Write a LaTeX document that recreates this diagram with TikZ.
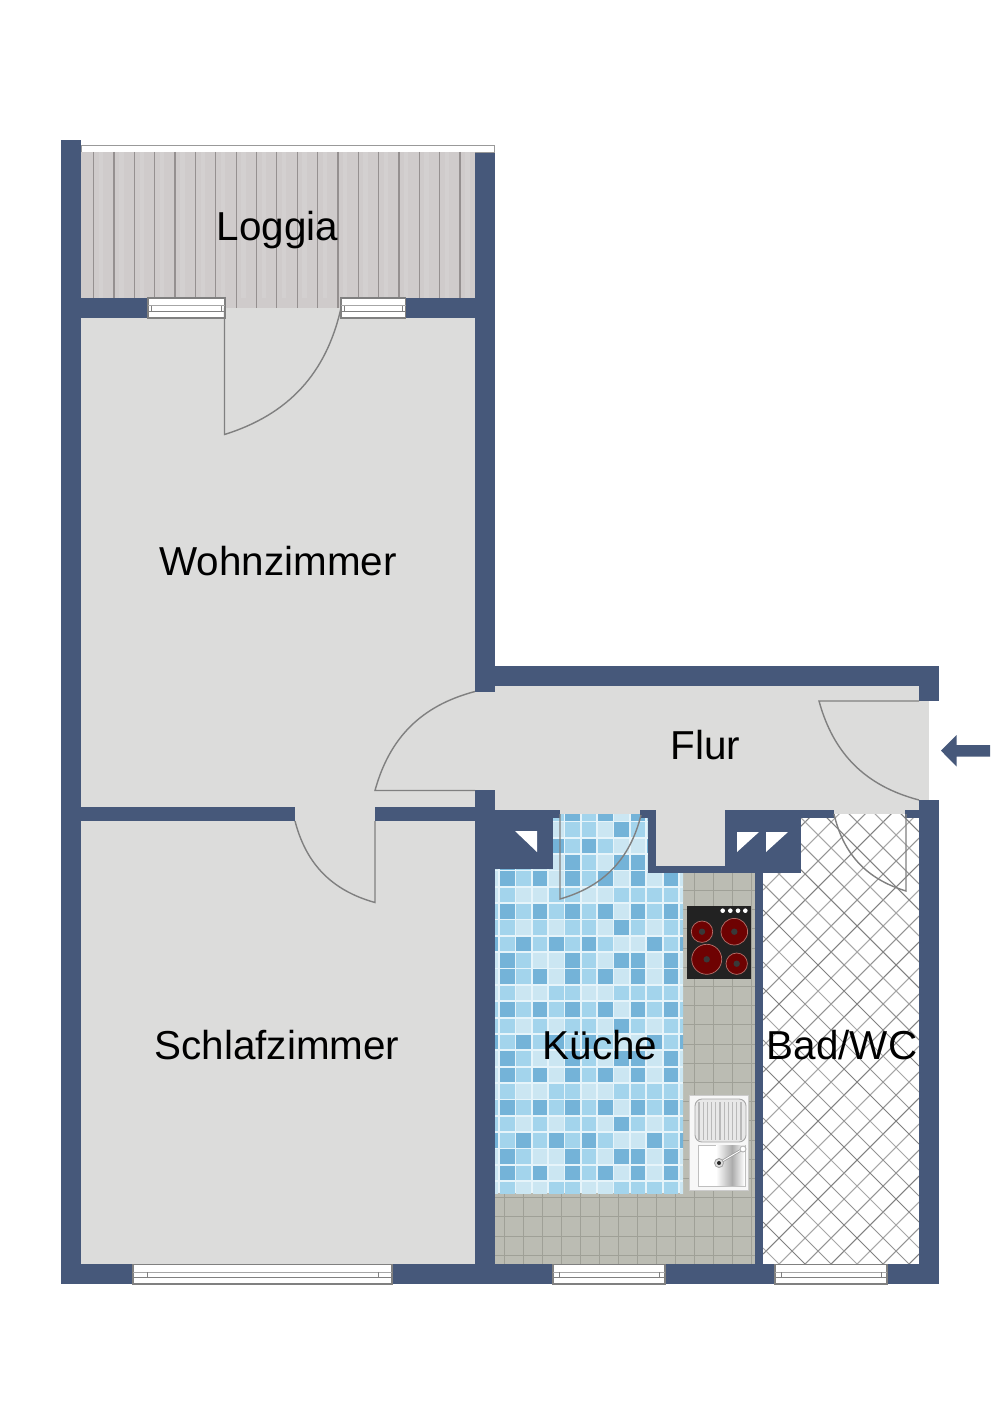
\documentclass[tikz,border=0pt]{standalone}
\usepackage{fontspec}
\setmainfont{Liberation Sans}

\definecolor{wallblue}{HTML}{46587A}
\definecolor{floorgray}{HTML}{DCDCDB}
\definecolor{plank}{HTML}{CFCBCB}
\definecolor{plankline}{HTML}{959090}
\definecolor{stone}{HTML}{BBBCB3}
\definecolor{stoneline}{HTML}{9FA097}
\definecolor{grout}{HTML}{E6F4FA}
\definecolor{mosaic0}{HTML}{CBE6F2}
\definecolor{mosaic1}{HTML}{A3D4EC}
\definecolor{mosaic2}{HTML}{74B3D8}
\definecolor{hobblack}{HTML}{222222}
\definecolor{hobred}{HTML}{6E0202}
\definecolor{hobring}{HTML}{B5706A}

\tikzset{
  roomlabel/.style={font=\fontsize{23}{27}\selectfont,text=black,inner sep=0pt},
  doorline/.style={draw=gray,line width=0.8pt},
  tileline/.style={draw=stoneline,line width=0.35pt},
  hatchline/.style={line width=0.6pt},
}

% x1, x2, y1, y2, inset of the ticks
\newcommand{\wallwindow}[5]{
  \draw[gray,line width=0.7pt,fill=white] (#1,#3) rectangle (#2,#4);
  \draw[gray!70,line width=0.7pt] (#1,{#3+0.39*(#4-#3)}) -- (#2,{#3+0.39*(#4-#3)});
  \draw[gray,line width=0.6pt] (#1,{#3+0.66*(#4-#3)}) -- (#2,{#3+0.66*(#4-#3)});
  \draw[gray,line width=0.4pt] ({#1+#5},{#3+0.39*(#4-#3)}) -- ({#1+#5},{#3+0.66*(#4-#3)});
  \draw[gray,line width=0.4pt] ({#2-#5},{#3+0.39*(#4-#3)}) -- ({#2-#5},{#3+0.66*(#4-#3)});
}

\begin{document}
\begin{tikzpicture}[x=0.02cm,y=-0.02cm]

\useasboundingbox (0,0) rectangle (1000,1415);
\fill[white] (0,0) rectangle (1000,1415);

% loggia
\draw[gray!80,line width=0.5pt,fill=white] (81,145.5) rectangle (494,152);
\fill[plank] (81,152) rectangle (475,298);
\fill[plank] (225,298) rectangle (341,308);
\foreach \i in {0,...,18} {
  \draw[white,opacity=0.1,line width=2.5pt] ({101+20.35*\i},152) -- ({101+20.35*\i},298);
  \draw[plankline,line width=0.7pt] ({93.7+20.35*\i},152) -- ({93.7+20.35*\i},298);
}
\foreach \i in {7,...,12} {
  \draw[plankline,line width=0.7pt] ({93.7+20.35*\i},298) -- ({93.7+20.35*\i},308);
}

% kitchen stone floor
\fill[stone] (495,1193) rectangle (755,1264);
\fill[stone] (683,866) rectangle (755,1193);
\begin{scope}
  \clip (495,1193) rectangle (755,1264) (683,866) rectangle (755,1193);
  \foreach \i in {0,...,13} {
    \draw[tileline] ({504+19*\i},866) -- ({504+19*\i},1264);
  }
  \foreach \i in {0,...,20} {
    \draw[tileline] (495,{1255-19.2*\i}) -- (755,{1255-19.2*\i});
  }
\end{scope}

% kitchen mosaic
\def\mosaicrows{{{1,1,0,1,0,1,1,0,2,1,0,1,1},
                 {2,1,2,1,2,1,2,1,0,0,2,1,2},
                 {0,2,1,0,0,2,1,0,2,2,0,2,0},
                 {0,2,1,2,0,2,1,2,0,2,0,2,0},
                 {0,1,0,0,1,1,0,0,1,1,1,1,0},
                 {1,2,1,2,1,2,1,2,0,2,1,2,1}}}
\begin{scope}
  \clip (495,814) rectangle (683,1193);
  \fill[grout] (495,814) rectangle (683,1193);
  \foreach \j in {-1,...,22} {
    \pgfmathtruncatemacro{\rowno}{mod(\j+6,6)}
    \foreach \i in {-1,...,11} {
      \pgfmathtruncatemacro{\tone}{\mosaicrows[\rowno][\i+1]}
      \fill[mosaic\tone] ({500+16.35*\i},{822.3+16.35*\j}) rectangle +(14.6,14.6);
    }
  }
\end{scope}

% bathroom tiles
\fill[white] (763,814) rectangle (919,1264);
\begin{scope}
  \clip (763,814) rectangle (919,1264);
  \foreach \i in {-8,...,21} {
    \pgfmathtruncatemacro{\tone}{70+15*mod(\i+9,3)}
    \draw[hatchline,draw=gray!\tone] (763,{890+26*\i}) -- (919,{734+26*\i});
  }
  \foreach \i in {-20,...,18} {
    \pgfmathtruncatemacro{\tone}{70+15*mod(\i+21,3)}
    \draw[hatchline,draw=gray!\tone] (763,{858+26*\i}) -- (919,{1014+26*\i});
  }
\end{scope}

% floors
\fill[floorgray] (81,318) rectangle (475,808);
\fill[floorgray] (225,308) rectangle (341,318);
\fill[floorgray] (81,807) rectangle (475,1264);
\fill[floorgray] (475,686) rectangle (919,814);
\fill[floorgray] (919,701) rectangle (929,800);
\fill[floorgray] (656,810) rectangle (725,866);

% walls
\fill[wallblue] (61,140) rectangle (81,1284);
\fill[wallblue] (475,153) rectangle (494.5,692);
\fill[wallblue] (494,666) rectangle (939,686);
\fill[wallblue] (919,666) rectangle (939,701);
\fill[wallblue] (919,800) rectangle (939,1284);
\fill[wallblue] (61,1264) rectangle (939,1284);
\fill[wallblue] (475,790) rectangle (495,1264);
\fill[wallblue] (81,298) rectangle (225,318);
\fill[wallblue] (341,298) rectangle (475,318);
\fill[wallblue] (81,807) rectangle (295,821);
\fill[wallblue] (375,807) rectangle (475,821);
\fill[wallblue] (495,810) rectangle (560,818);
\fill[wallblue] (495,810) rectangle (553,869);
\fill[wallblue] (640,810) rectangle (656,818);
\fill[wallblue] (648,810) rectangle (656,873);
\fill[wallblue] (648,866) rectangle (801,873);
\fill[wallblue] (725,810) rectangle (801,873);
\fill[wallblue] (725,810) rectangle (834,818);
\fill[wallblue] (905,810) rectangle (919,818);
\fill[wallblue] (755,873) rectangle (763,1264);

% shafts
\fill[white] (515,831) -- (537,831) -- (537,852) -- cycle;
\fill[white] (737,832) -- (759,832) -- (737,852) -- cycle;
\fill[white] (766,832) -- (788,832) -- (766,852) -- cycle;

% windows
\wallwindow{148}{225}{298}{318}{3.7}
\wallwindow{341}{405.7}{298}{318}{3.7}
\wallwindow{133}{392}{1264.5}{1284}{14}
\wallwindow{553}{665}{1264.5}{1284}{6}
\wallwindow{775}{887}{1264.5}{1284}{6}

% doors
\draw[doorline] (224.5,308) -- (224.5,434.5) to[bend right=30] (341,308);
\draw[doorline] (375,821) -- (375,902.5) to[bend left=30] (295,821);
\draw[doorline] (475,790.5) -- (375,790.5) to[bend left=30] (475,691.5);
\draw[doorline] (560,814) -- (560,899) to[bend right=30] (641,815);
\draw[doorline] (919,701) -- (819,701) to[bend right=30] (919,800);
\draw[doorline] (906,814) -- (906,891) to[bend left=30] (834,814);

% hob
\fill[hobblack] (686.7,906) rectangle (751,979);
\foreach \x in {722.7,730.3,738,745.3} {
  \fill[white] (\x,910.7) circle[radius=2.3];
}
\foreach \x/\y/\r in {702/931.7/10.7,734.3/931.7/13.3,706.7/959.3/15,736.7/963.7/10.7} {
  \draw[hobring,line width=0.4pt,fill=hobred] (\x,\y) circle[radius=\r];
  \fill[gray!45!black] (\x,\y) circle[radius=3.2];
}

% sink
\draw[gray!40,line width=0.4pt,fill=gray!6] (689,1095.7) rectangle (748.7,1190);
\draw[gray!70,line width=0.5pt,fill=gray!18,rounded corners=4pt] (695,1099) rectangle (746,1142);
\foreach \i in {0,...,10} {
  \draw[gray!55,line width=0.7pt] ({699+4.2*\i},1102) -- ({699+4.2*\i},1140);
}
\draw[gray!50,line width=0.4pt,fill=white] (698,1145) rectangle (745,1186);
\shade[left color=white,right color=gray!65] (716,1145.5) rectangle (732,1185.5);
\shade[left color=gray!65,right color=white] (732,1145.5) rectangle (744.5,1185.5);
\draw[gray!75,line width=1.4pt] (719,1163) -- (742,1149.5);
\draw[white,line width=0.5pt] (719,1163) -- (742,1149.5);
\draw[gray!60,line width=0.5pt,fill=white] (743,1149) circle[radius=3];
\draw[gray!70,line width=0.5pt,fill=gray!25] (719,1163) circle[radius=4.5];
\fill[gray!30!black] (719,1163) circle[radius=2];

% entrance arrow
\fill[wallblue] (941,750.7) -- (956.7,735) -- (956.7,745) -- (990,745) -- (990,756.7) -- (956.7,756.7) -- (956.7,766.7) -- cycle;

% room names
\node[roomlabel] (loggia) at (277.5,230) {Loggia};
\node[roomlabel] (wohnzimmer) at (278,561) {Wohnzimmer};
\node[roomlabel] (flur) at (705.5,745) {Flur};
\node[roomlabel] (schlafzimmer) at (277,1045) {Schlafzimmer};
\node[roomlabel] (kueche) at (600,1045) {Küche};
\node[roomlabel] (bad) at (842,1045) {Bad/WC};

\end{tikzpicture}
\end{document}
